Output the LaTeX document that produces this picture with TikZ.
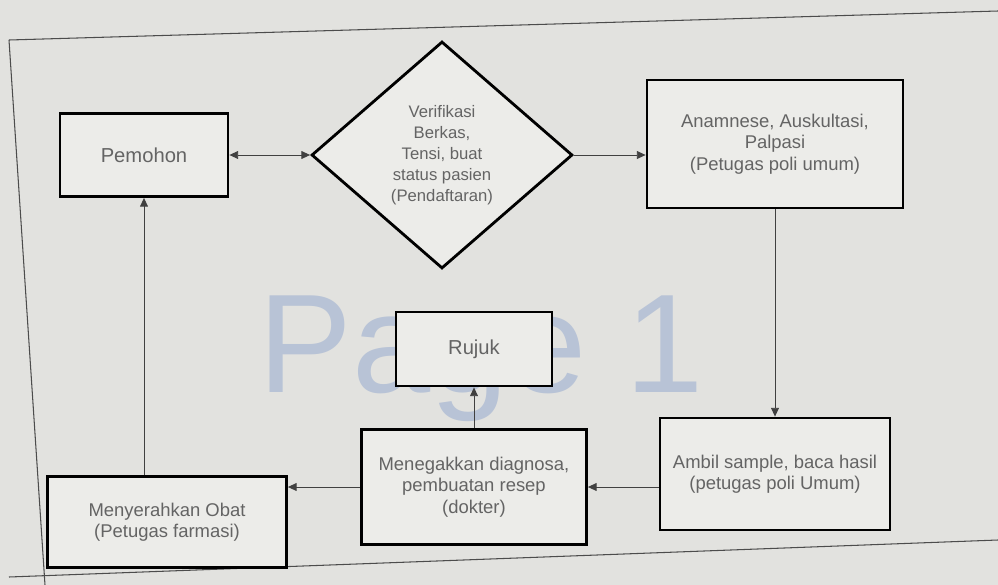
\documentclass[tikz,border=0pt]{standalone}
\usepackage{fontspec}
\setmainfont{Liberation Sans}
\usetikzlibrary{shapes.geometric}
\usetikzlibrary{arrows.meta}
\definecolor{pagebg}{RGB}{226,226,223}
\definecolor{boxbg}{RGB}{236,236,233}
\definecolor{txt}{RGB}{100,100,100}
\definecolor{wm}{RGB}{184,195,214}
\tikzset{blk/.style={draw=black,line width=1.6pt,fill=boxbg,align=center,text=txt,font=\fontsize{10.5}{12.2}\selectfont,inner sep=2pt}}
\tikzset{dec/.style={diamond,draw=black,line width=1.6pt,fill=boxbg,align=center,text=txt,font=\fontsize{9.5}{12}\selectfont,inner sep=0pt}}
\tikzset{ln/.style={draw=black!75,line width=0.5pt}}
\tikzset{>={Triangle[length=5pt,width=4.5pt]}}

\begin{document}
\begin{tikzpicture}[x=0.02cm,y=-0.02cm]
        \fill[pagebg] (0,0) rectangle (998,585);
        \useasboundingbox (0,0) rectangle (998,585);

        % page break preview
        \node[anchor=base west,inner sep=0pt,text=wm,font=\fontsize{80}{80}\selectfont] (wmark) at (258,392) {Page 1};
        \draw[black!70,line width=0.6pt] (9,40) -- (998,11);
        \draw[black!70,line width=0.6pt] (9,40) -- (45,585);
        \draw[black!70,line width=0.6pt] (9,577) -- (998,540);

        \node[blk,minimum width=3.36cm,minimum height=1.66cm,font=\fontsize{11.5}{14}\selectfont] (pem) at (144,155) {Pemohon};
        \node[dec,minimum width=5.22cm,minimum height=4.54cm] (ver) at (442,155) {Verifikasi\\Berkas,\\Tensi, buat\\status pasien\\(Pendaftaran)};
        \node[blk,minimum width=5.12cm,minimum height=2.56cm] (ana) at (775,144) {Anamnese, Auskultasi,\\Palpasi\\(Petugas poli umum)};
        \node[blk,minimum width=4.6cm,minimum height=2.24cm] (amb) at (775,474) {Ambil sample, baca hasil\\(petugas poli Umum)};
        \node[blk,minimum width=4.5cm,minimum height=2.3cm] (dg) at (474,487) {Menegakkan diagnosa,\\pembuatan resep\\(dokter)};
        \node[blk,minimum width=3.12cm,minimum height=1.48cm,font=\fontsize{11.5}{14}\selectfont] (rj) at (474,349) {Rujuk};
        \node[blk,minimum width=4.78cm,minimum height=1.82cm] (sr) at (167,522) {Menyerahkan Obat\\(Petugas farmasi)};

        \draw[ln,<->] (pem) -- (ver);
        \draw[ln,->] (ver.east) -- (ver.east -| ana.west);
        \draw[ln,->] (ana) -- (amb);
        \draw[ln,->] (amb.west |- dg.east) -- (dg.east);
        \draw[ln,->] (dg.west) -- (dg.west -| sr.east);
        \draw[ln,->] (dg) -- (rj);
        \draw[ln,->] (pem.south |- sr.north) -- (pem.south);
\end{tikzpicture}
\end{document}
